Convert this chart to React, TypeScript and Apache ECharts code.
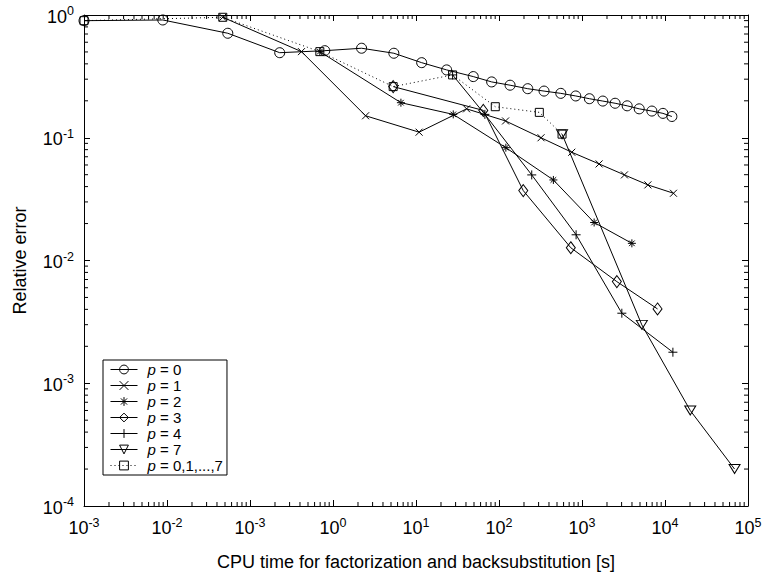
import React, { useEffect, useRef } from 'react';
import * as echarts from 'echarts';

// ---- data ----
const p0X = [0.001, 0.0089, 0.054, 0.228, 0.796, 2.21, 5.41, 11.7, 23.4, 49.0, 81.6, 136, 222, 349, 555, 841, 1228, 1782, 2506, 3500, 4887, 6950, 9440, 12100];
const p0Y = [0.899, 0.911, 0.71, 0.493, 0.512, 0.536, 0.488, 0.409, 0.357, 0.315, 0.285, 0.268, 0.251, 0.24, 0.23, 0.219, 0.208, 0.199, 0.191, 0.182, 0.172, 0.165, 0.158, 0.149];

const p1X = [0.047, 0.417, 2.47, 10.9, 40.7, 120, 321, 753, 1607, 3246, 6220, 12650];
const p1Y = [0.958, 0.503, 0.151, 0.111, 0.172, 0.137, 0.1, 0.0762, 0.0612, 0.0498, 0.0413, 0.0353];

const p2X = [0.694, 6.58, 28.1, 121, 452, 1400, 3990];
const p2Y = [0.503, 0.193, 0.155, 0.083, 0.0453, 0.0204, 0.0138];

const p3X = [5.31, 64.7, 196, 733, 2630, 8130];
const p3Y = [0.261, 0.167, 0.0371, 0.0127, 0.00673, 0.00403];

const p4X = [27.6, 67.6, 248, 849, 3020, 12450];
const p4Y = [0.325, 0.155, 0.0498, 0.0162, 0.00372, 0.00179];

const p7X = [575, 5260, 20140, 68900];
const p7Y = [0.107, 0.00299, 0.0006, 0.0002];

const pAllX = [0.001, 0.047, 0.694, 5.31, 27.6, 90.2, 306, 575];
const pAllY = [0.899, 0.958, 0.503, 0.261, 0.325, 0.179, 0.161, 0.107];

const seriesNames = ['p = 0', 'p = 1', 'p = 2', 'p = 3', 'p = 4', 'p = 7', 'p = 0,1,...,7'];

// tick label exponents as printed in the reference (left to right / bottom to top)
const xTickExps = ['-3', '-2', '-3', '0', '1', '2', '3', '4', '5'];
const yTickExps = ['-4', '-3', '-2', '-1', '0'];

const xAxisTitle = 'CPU time for factorization and backsubstitution [s]';
const yAxisTitle = 'Relative error';

// ---- styling ----
const X_MIN = 1e-3;
const X_MAX = 1e5;
const Y_MIN = 1e-4;
const Y_MAX = 1;
const FONT = '"Liberation Sans", Arial, Helvetica, sans-serif';
const INK = '#000';
const MAJOR = 6;
const MINOR = 4;

const SYM_X = 'path://M0,0L10,10M10,0L0,10';
const SYM_STAR = 'path://M5,0L5,10M0,5L10,5M1.5,1.5L8.5,8.5M8.5,1.5L1.5,8.5';
const SYM_PLUS = 'path://M5,0L5,10M0,5L10,5';
const SYM_DIAM = 'path://M5,0L10,6L5,12L0,6Z';
const SYM_TRI = 'path://M0,0L10,0L5,8.5Z';

const richLbl = {
  b: { fontSize: 18, lineHeight: 21, verticalAlign: 'bottom', color: INK, fontFamily: FONT },
  s: { fontSize: 12.5, lineHeight: 12, verticalAlign: 'top', color: INK, fontFamily: FONT },
};

const pairs = (xs: number[], ys: number[]) => xs.map((x, i) => [x, ys[i]]);

const lineSeries = (name: string, xs: number[], ys: number[], symbol: string, symbolSize: any, dotted = false) => ({
  name,
  type: 'line',
  data: pairs(xs, ys),
  symbol,
  symbolSize,
  clip: false,
  lineStyle: { color: INK, width: 1, type: dotted ? [1, 3] : 'solid' },
  itemStyle: { color: 'none', borderColor: INK, borderWidth: 1 },
  emphasis: { disabled: true },
});

const minorXs: number[] = [];
for (let e = -3; e < 5; e++) for (let k = 2; k <= 9; k++) minorXs.push(k * Math.pow(10, e));
const minorYs: number[] = [];
for (let e = -4; e < 0; e++) for (let k = 2; k <= 9; k++) minorYs.push(k * Math.pow(10, e));

const expIndex = (v: number, base: number) => Math.round(Math.log10(v)) - base;

const option: any = {
  animation: false,
  backgroundColor: '#fff',
  textStyle: { fontFamily: FONT, color: INK },
  grid: { left: 84, right: 20, top: 15, bottom: 67, containLabel: false, outerBoundsMode: 'none' },
  legend: {
    data: seriesNames,
    orient: 'vertical',
    left: 103,
    top: 360,
    itemWidth: 27,
    itemHeight: 11,
    itemGap: 1,
    padding: [2, 4, 2, 7],
    backgroundColor: '#fff',
    borderColor: INK,
    borderWidth: 1,
    borderRadius: 0,
    selectedMode: false,
    itemStyle: { borderWidth: 1, borderColor: INK, color: 'none' },
    lineStyle: { width: 1, color: INK },
    formatter: (n: string) => `{i|p}${n.slice(1)}`,
    textStyle: {
      fontSize: 15,
      color: INK,
      fontFamily: FONT,
      lineHeight: 14,
      padding: [0, 0, 0, 5],
      rich: { i: { fontStyle: 'italic', fontSize: 15, lineHeight: 14, color: INK, fontFamily: FONT } },
    },
  },
  xAxis: [
    {
      type: 'log',
      logBase: 10,
      min: X_MIN,
      max: X_MAX,
      splitNumber: 8,
      position: 'bottom',
      axisLine: { show: true, lineStyle: { color: INK, width: 1 } },
      axisTick: { show: true, inside: true, length: MAJOR, lineStyle: { color: INK, width: 1 } },
      splitLine: { show: false },
      axisLabel: {
        margin: 10,
        showMinLabel: true,
        showMaxLabel: true,
        hideOverlap: false,
        formatter: (v: number) => `{b|10}{s|${xTickExps[expIndex(v, -3)]}}`,
        rich: richLbl,
      },
      name: xAxisTitle,
      nameLocation: 'middle',
      nameGap: 47,
      nameTextStyle: { fontSize: 18, color: INK, fontFamily: FONT },
    },
    {
      type: 'log',
      logBase: 10,
      min: X_MIN,
      max: X_MAX,
      splitNumber: 8,
      position: 'top',
      axisLine: { show: true, lineStyle: { color: INK, width: 1 } },
      axisTick: { show: true, inside: true, length: MAJOR, lineStyle: { color: INK, width: 1 } },
      splitLine: { show: false },
      axisLabel: { show: false },
    },
  ],
  yAxis: [
    {
      type: 'log',
      logBase: 10,
      min: Y_MIN,
      max: Y_MAX,
      splitNumber: 4,
      position: 'left',
      axisLine: { show: true, lineStyle: { color: INK, width: 1 } },
      axisTick: { show: true, inside: true, length: MAJOR, lineStyle: { color: INK, width: 1 } },
      splitLine: { show: false },
      axisLabel: {
        margin: 10,
        showMinLabel: true,
        showMaxLabel: true,
        formatter: (v: number) => `{b|10}{s|${yTickExps[expIndex(v, -4)]}}`,
        rich: richLbl,
      },
      name: yAxisTitle,
      nameLocation: 'middle',
      nameGap: 55,
      nameTextStyle: { fontSize: 18, color: INK, fontFamily: FONT },
    },
    {
      type: 'log',
      logBase: 10,
      min: Y_MIN,
      max: Y_MAX,
      splitNumber: 4,
      position: 'right',
      axisLine: { show: true, lineStyle: { color: INK, width: 1 } },
      axisTick: { show: true, inside: true, length: MAJOR, lineStyle: { color: INK, width: 1 } },
      splitLine: { show: false },
      axisLabel: { show: false },
    },
  ],
  series: [
    lineSeries(seriesNames[0], p0X, p0Y, 'circle', 10),
    lineSeries(seriesNames[1], p1X, p1Y, SYM_X, 7),
    lineSeries(seriesNames[2], p2X, p2Y, SYM_STAR, 8),
    lineSeries(seriesNames[3], p3X, p3Y, SYM_DIAM, [9, 12]),
    lineSeries(seriesNames[4], p4X, p4Y, SYM_PLUS, 9),
    lineSeries(seriesNames[5], p7X, p7Y, SYM_TRI, [11, 9]),
    lineSeries(seriesNames[6], pAllX, pAllY, 'rect', 8, true),
    {
      type: 'custom',
      silent: true,
      clip: false,
      xAxisIndex: 0,
      yAxisIndex: 0,
      data: minorXs.map((v) => [v, 0.5]),
      encode: { x: 0, y: 1 },
      renderItem: (_p: any, api: any) => {
        const v = api.value(0);
        const b = api.coord([v, Y_MIN]);
        const t = api.coord([v, Y_MAX]);
        return {
          type: 'group',
          children: [
            { type: 'line', shape: { x1: b[0], y1: b[1], x2: b[0], y2: b[1] - MINOR }, style: { stroke: INK, lineWidth: 1 } },
            { type: 'line', shape: { x1: t[0], y1: t[1], x2: t[0], y2: t[1] + MINOR }, style: { stroke: INK, lineWidth: 1 } },
          ],
        };
      },
    },
    {
      type: 'custom',
      silent: true,
      clip: false,
      xAxisIndex: 0,
      yAxisIndex: 0,
      data: minorYs.map((v) => [1, v]),
      encode: { x: 0, y: 1 },
      renderItem: (_p: any, api: any) => {
        const v = api.value(1);
        const l = api.coord([X_MIN, v]);
        const r = api.coord([X_MAX, v]);
        return {
          type: 'group',
          children: [
            { type: 'line', shape: { x1: l[0], y1: l[1], x2: l[0] + MINOR, y2: l[1] }, style: { stroke: INK, lineWidth: 1 } },
            { type: 'line', shape: { x1: r[0], y1: r[1], x2: r[0] - MINOR, y2: r[1] }, style: { stroke: INK, lineWidth: 1 } },
          ],
        };
      },
    },
  ],
};

export default function App() {
  const ref = useRef<HTMLDivElement>(null);
  useEffect(() => {
    if (!ref.current) return;
    const chart = echarts.init(ref.current, null, { renderer: 'svg' });
    chart.setOption(option);
    return () => chart.dispose();
  }, []);
  return <div ref={ref} style={{ position: 'fixed', left: 0, top: 0, width: 768, height: 573, background: '#fff' }} />;
}
